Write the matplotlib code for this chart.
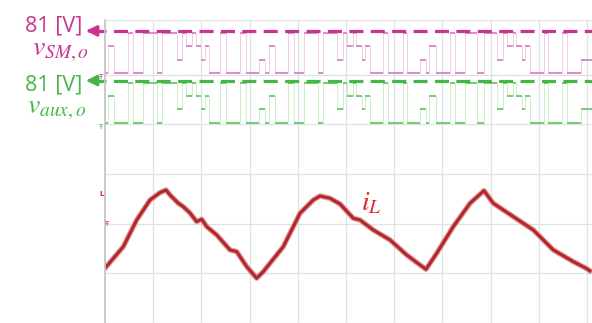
import matplotlib.pyplot as plt

W, H = 592, 323

# switching instants of the module output (time in divisions) and level index 0..3
sw_t = [0.000, 0.068, 0.187, 0.483, 0.587, 0.795, 1.085, 1.183, 1.488, 1.598,
        1.680, 1.805, 1.888, 1.985, 2.081, 2.164, 2.386, 2.510, 2.801, 2.925,
        3.201, 3.320, 3.396, 3.521, 3.803, 3.921, 4.129, 4.425, 4.517, 4.807,
        4.938, 5.015, 5.139, 5.207, 5.326, 5.394, 5.498, 5.761, 5.878, 6.189,
        6.259, 6.535, 6.660, 6.728, 6.867, 7.158, 7.261, 7.469, 7.724, 7.863,
        8.127, 8.263, 8.334, 8.458, 8.527, 8.645, 8.714, 8.817, 9.108, 9.197,
        9.475, 9.579, 9.869]
sw_lvl = [0, 2, 0, 3, 0, 3, 0, 3, 1, 3,
          2, 3, 2, 1, 2, 0, 3, 0, 3, 0,
          1, 0, 2, 0, 3, 0, 3, 0, 3, 1,
          3, 2, 3, 2, 1, 2, 0, 3, 0, 3,
          0, 1, 0, 2, 0, 3, 0, 3, 0, 3,
          1, 3, 2, 3, 2, 1, 2, 0, 3, 0,
          3, 0, 1]
t_end = 10.104

level_v = 27          # volts per level, top level = 81 V
volt_per_div = 100
sm_offset = 2.03      # channel ground positions (div)
aux_offset = 1.03

# inductor current trace (time in div, current in div)
il_t = [0.000, 0.380, 0.658, 0.934, 1.141, 1.266, 1.349, 1.521, 1.624, 1.763,
        1.902, 2.006, 2.110, 2.317, 2.593, 2.732, 2.940, 3.147, 3.284, 3.699,
        4.046, 4.322, 4.461, 4.668, 4.876, 5.151, 5.290, 5.566, 5.913, 6.259,
        6.535, 6.660, 6.882, 7.226, 7.573, 7.863, 8.056, 8.471, 8.886, 9.301,
        9.716, 9.979, 10.06]
il_div = [-1.897, -1.463, -0.926, -0.523, -0.376, -0.322, -0.423, -0.590, -0.658, -0.785,
          -0.960, -0.911, -1.060, -1.227, -1.529, -1.563, -1.865, -2.099, -1.966, -1.463,
          -0.791, -0.523, -0.443, -0.489, -0.604, -0.891, -0.926, -1.127, -1.328, -1.630,
          -1.831, -1.918, -1.596, -1.060, -0.590, -0.336, -0.590, -0.859, -1.127, -1.529,
          -1.765, -1.897, -1.950]

pink = '#c8348f'
green = '#46b649'
red = '#e3262c'

plt.rcParams['mathtext.fontset'] = 'stix'

fig = plt.figure(figsize=(W / 100, H / 100), dpi=100)
ax = fig.add_axes([105 / W, 0, 487 / W, 303.5 / H])
ax.set_xlim(0, t_end)
ax.set_ylim(-2.998, 3.109)

# scope graticule
ax.set_xticks(range(1, 11))
ax.set_yticks(range(-3, 3))
ax.grid(True, color='#dde2e2', lw=0.9)
ax.tick_params(length=0, labelbottom=False, labelleft=False)
ax.spines['right'].set_visible(False)
ax.spines['bottom'].set_visible(False)
ax.spines['left'].set_color('#c4c6c6')
ax.spines['left'].set_linewidth(1.3)
ax.spines['top'].set_color('#e2e4e4')
ax.spines['top'].set_linewidth(0.9)


def draw_pwm(offset, thin_col, seg_col, top_col, label, lab_y, text_y):
    ys = [offset + l * level_v / volt_per_div for l in sw_lvl]
    ts = sw_t + [t_end]
    ax.step(ts, ys + [ys[-1]], where='post', color=thin_col, lw=0.6)
    ax.hlines(ys, sw_t, ts[1:], color=seg_col, lw=1.4)
    top = offset + 3 * level_v / volt_per_div + 0.04
    # 81 V marker: arrow pointing to the left plus dashed line across the screen
    ax.plot([-0.27, t_end], [top, top], color=top_col, lw=2.3, dashes=(4.4, 2.3),
            clip_on=False, solid_capstyle='butt')
    ax.annotate('', xy=(-0.395, top), xytext=(-0.26, top), annotation_clip=False,
                arrowprops=dict(arrowstyle='-|>,head_length=0.6,head_width=0.3',
                                color=top_col, lw=2.3, shrinkA=0, shrinkB=0))
    fig.text(82 / W, 1 - text_y / H, '81 [V]', color=top_col, fontsize=15.5,
             family='Open Sans', ha='right', va='baseline')
    fig.text(label[1] / W, 1 - lab_y / H, label[0], color=top_col, fontsize=20,
             ha='left', va='baseline')
    ax.text(-0.10, offset - 0.08, 'Ŧ', color=top_col, fontsize=5, ha='center',
            va='center', clip_on=False)


draw_pwm(sm_offset, '#f2c4e4', '#dc8acb', pink, (r'$v_{SM,o}$', 32), 55.5, 31.5)
draw_pwm(aux_offset, '#c6e9c2', '#74cc72', green, (r'$v_{aux,o}$', 27), 114, 90.5)

# inductor current
ax.plot(il_t, il_div, color='#d98a8a', lw=4.0, alpha=0.75, solid_joinstyle='round')
ax.plot(il_t, il_div, color='#b3272d', lw=2.3, solid_joinstyle='round')
ax.text(-0.08, -0.40, 'L', color=red, fontsize=5, ha='center', va='center',
        fontweight='bold', clip_on=False)
ax.text(0.02, -1.016, 'Ŧ', color=red, fontsize=5, ha='center', va='center',
        clip_on=False)
fig.text(361 / W, 1 - 210 / H, r'$i_L$', color=red, fontsize=20, ha='left',
         va='baseline')

fig.savefig('out.png', dpi=100)
